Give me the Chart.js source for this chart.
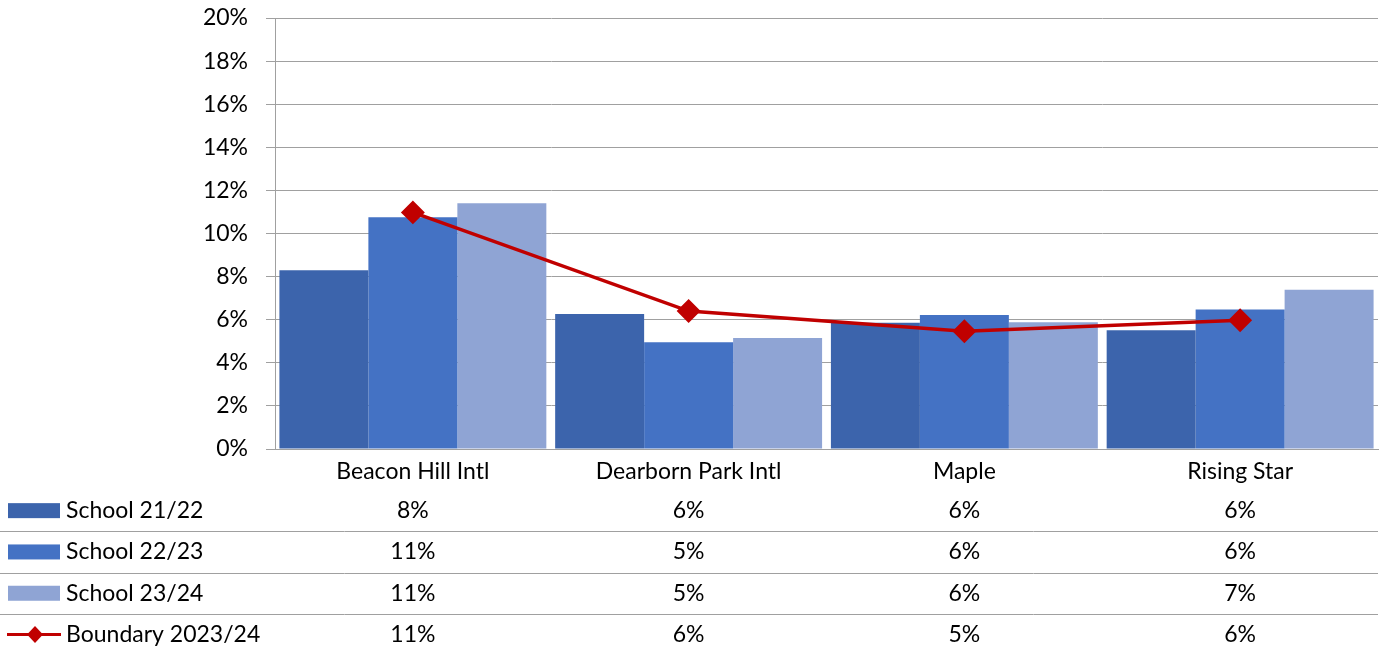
<!DOCTYPE html>
<html>
<head>
<meta charset="utf-8">
<script src="https://cdn.jsdelivr.net/npm/chart.js@4"></script>
<style>
  html, body { margin: 0; padding: 0; background: #fff; }
  #wrap { width: 1391px; height: 650px; }
</style>
</head>
<body>
<div id="wrap"><canvas id="grafico" width="1391" height="650"></canvas></div>
<script>
// Dados (%)
const categorias = ['Beacon Hill Intl', 'Dearborn Park Intl', 'Maple', 'Rising Star'];
const escola2122 = [8.3, 6.26, 5.86, 5.51];
const escola2223 = [10.75, 4.95, 6.22, 6.47];
const escola2324 = [11.4, 5.15, 5.88, 7.39];
const limite2324 = [10.98, 6.4, 5.46, 5.97];
const rotulosEixoY = ['0%', '2%', '4%', '6%', '8%', '10%', '12%', '14%', '16%', '18%', '20%'];

const FONTE = 'Lato, "Open Sans", sans-serif';
const TAM_FONTE = 23;

const series = [
    { nome: 'School 21/22', dados: escola2122, cor: '#3c64ac', tipo: 'bar' },
    { nome: 'School 22/23', dados: escola2223, cor: '#4472c4', tipo: 'bar' },
    { nome: 'School 23/24', dados: escola2324, cor: '#8fa4d4', tipo: 'bar' },
    { nome: 'Boundary 2023/24', dados: limite2324, cor: '#c00000', tipo: 'line' }
];

// Desenha a tabela de dados abaixo do gráfico
const tabelaDados = {
    id: 'tabelaDados',
    afterDraw(chart) {
        const { ctx, chartArea, scales } = chart;
        const x = scales.x;
        const alturaLinha = 41.3;
        const topo = 490;
        ctx.save();
        ctx.font = `${TAM_FONTE}px ${FONTE}`;
        ctx.textBaseline = 'middle';
        series.forEach((s, i) => {
            const yc = topo + alturaLinha * (i + 0.5);
            // chave da legenda
            if (s.tipo === 'bar') {
                ctx.fillStyle = s.cor;
                ctx.fillRect(8, yc - 7.5, 52, 15);
            } else {
                ctx.strokeStyle = s.cor;
                ctx.lineWidth = 3;
                ctx.beginPath();
                ctx.moveTo(7, yc);
                ctx.lineTo(61, yc);
                ctx.stroke();
                ctx.fillStyle = s.cor;
                ctx.beginPath();
                ctx.moveTo(35, yc - 8.5);
                ctx.lineTo(43, yc);
                ctx.lineTo(35, yc + 8.5);
                ctx.lineTo(27, yc);
                ctx.closePath();
                ctx.fill();
            }
            ctx.fillStyle = '#000';
            ctx.textAlign = 'left';
            ctx.fillText(s.nome, 66, yc);
            ctx.textAlign = 'center';
            s.dados.forEach((v, j) => {
                ctx.fillText(Math.round(v) + '%', x.getPixelForValue(j), yc);
            });
            if (i < series.length - 1) {
                const yl = Math.round(topo + alturaLinha * (i + 1)) + 0.5;
                ctx.strokeStyle = '#a0a0a0';
                ctx.lineWidth = 1;
                ctx.beginPath();
                ctx.moveTo(0, yl);
                ctx.lineTo(1378, yl);
                ctx.stroke();
            }
        });
        ctx.restore();
    }
};

const datasets = series.map(s => s.tipo === 'bar' ? {
    type: 'bar',
    label: s.nome,
    data: s.dados,
    backgroundColor: s.cor,
    borderWidth: 0,
    order: 2
} : {
    type: 'line',
    label: s.nome,
    data: s.dados,
    borderColor: s.cor,
    backgroundColor: s.cor,
    borderWidth: 3.5,
    pointStyle: 'rectRot',
    pointRadius: 9.5,
    pointHoverRadius: 9.5,
    tension: 0,
    order: 1
});

new Chart(document.getElementById('grafico').getContext('2d'), {
    data: { labels: categorias, datasets },
    options: {
        responsive: false,
        animation: false,
        layout: { padding: { top: 18, right: 10, bottom: 161, left: 0 } },
        plugins: { legend: { display: false }, tooltip: { enabled: false } },
        datasets: { bar: { categoryPercentage: 0.968, barPercentage: 1.0 } },
        scales: {
            x: {
                grid: { display: false, drawTicks: false },
                border: { color: '#a0a0a0', width: 1 },
                ticks: { color: '#000', padding: 9, font: { family: FONTE, size: TAM_FONTE } },
                afterFit: (escala) => { escala.height = 40; }
            },
            y: {
                min: 0,
                max: 20,
                ticks: {
                    stepSize: 2,
                    color: '#000',
                    padding: 18,
                    font: { family: FONTE, size: TAM_FONTE },
                    callback: (v, i) => rotulosEixoY[i]
                },
                grid: { color: '#a0a0a0', tickLength: 9, tickColor: '#a0a0a0' },
                border: { color: '#a0a0a0', width: 1 },
                afterFit: (escala) => {
                    escala.width = 275;
                    escala.paddingTop = 0;
                    escala.paddingBottom = 0;
                }
            }
        }
    },
    plugins: [tabelaDados]
});
</script>
</body>
</html>
